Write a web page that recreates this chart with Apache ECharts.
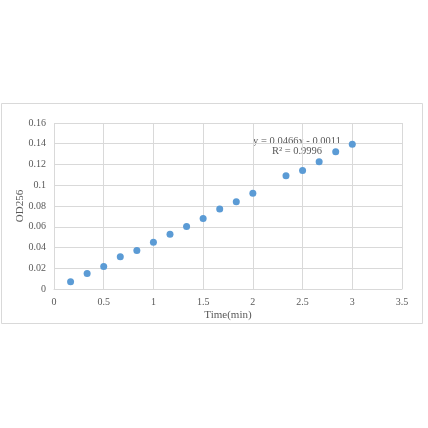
<!DOCTYPE html>
<html><head><meta charset="utf-8">
<script src="https://cdn.jsdelivr.net/npm/echarts@6/dist/echarts.min.js"></script>
<style>html,body{margin:0;padding:0;background:#fff}#c{width:428px;height:428px}</style>
</head><body><div id="c"></div>
<script>
const timeMin = [0.1667,0.3333,0.5,0.6667,0.8333,1.0,1.1667,1.3333,1.5,1.6667,1.8333,2.0,2.3333,2.5,2.6667,2.8333,3.0];
const od256 = [0.007,0.015,0.0216,0.0312,0.037,0.0451,0.0528,0.0602,0.068,0.077,0.084,0.0924,0.1092,0.1143,0.1227,0.1324,0.1395];
const trendText = ['y = 0.0466x - 0.0011','R² = 0.9996'];
const xTitle = 'Time(min)';
const yTitle = 'OD256';

const font = '"Liberation Serif", "DejaVu Serif", serif';
const chart = echarts.init(document.getElementById('c'));
chart.setOption({
  animation:false,
  backgroundColor:'#fff',
  grid:{left:54,top:123,right:26,bottom:139,containLabel:false,outerBoundsMode:'none'},
  xAxis:{type:'value',min:0,max:3.5,interval:0.5,
    axisLine:{show:true,lineStyle:{color:'#d9d9d9'}},axisTick:{show:false},
    splitLine:{show:true,lineStyle:{color:'#d9d9d9'}},
    axisLabel:{color:'#595959',fontFamily:font,fontSize:10,margin:8},
    name:xTitle,nameLocation:'middle',nameGap:21,
    nameTextStyle:{color:'#595959',fontFamily:font,fontSize:11}},
  yAxis:{type:'value',min:0,max:0.16,interval:0.02,
    axisLine:{show:false},axisTick:{show:false},
    splitLine:{show:true,lineStyle:{color:'#d9d9d9'}},
    axisLabel:{color:'#595959',fontFamily:font,fontSize:10,margin:8},
    name:yTitle,nameLocation:'middle',nameGap:28,nameRotate:90,nameMoveOverlap:false,
    nameTextStyle:{color:'#595959',fontFamily:font,fontSize:11}},
  graphic:[
    {type:'rect',shape:{x:1.5,y:103.5,width:421,height:220},style:{fill:'none',stroke:'#d9d9d9',lineWidth:1},z:-1},
    {type:'text',x:297,y:141,style:{text:trendText[0],fill:'#595959',font:'10.5px '+font,textAlign:'center',textVerticalAlign:'middle'}},
    {type:'text',x:297,y:151,style:{text:trendText[1],fill:'#595959',font:'10.5px '+font,textAlign:'center',textVerticalAlign:'middle'}}
  ],
  series:[{type:'scatter',symbolSize:7,itemStyle:{color:'#5B9BD5',opacity:1},
    data:timeMin.map((t,i)=>[t,od256[i]])}]
});
</script></body></html>
